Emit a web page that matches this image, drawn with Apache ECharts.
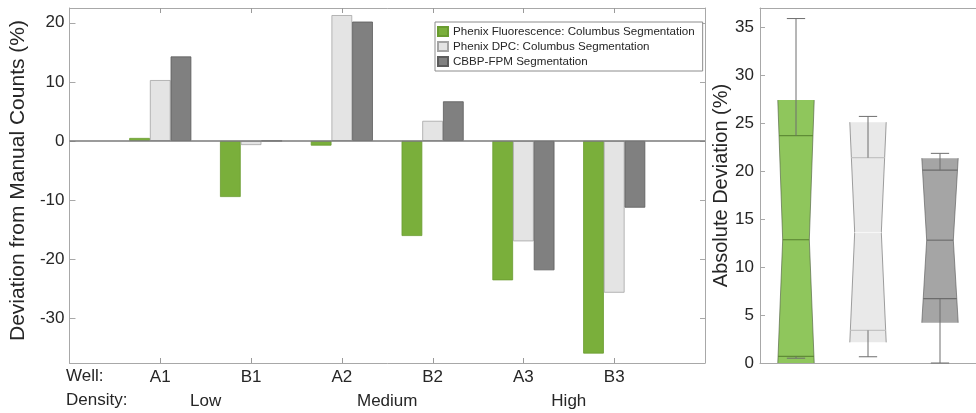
<!DOCTYPE html>
<html>
<head>
<meta charset="utf-8">
<script src="https://cdn.jsdelivr.net/npm/echarts@6/dist/echarts.min.js"></script>
<style>html,body{margin:0;padding:0;background:#fff;}#c{width:976px;height:413px;}</style>
</head>
<body>
<div id="c"></div>
<script>
// ---------- data ----------
const wells = ['A1', 'B1', 'A2', 'B2', 'A3', 'B3'];
const densityLevels = ['Low', 'Medium', 'High'];
const seriesNames = ['Phenix Fluorescence: Columbus Segmentation', 'Phenix DPC: Columbus Segmentation', 'CBBP-FPM Segmentation'];
const fluorescence = [0.5, -9.5, -0.8, -16.1, -23.6, -36.0];
const dpc = [10.3, -0.7, 21.3, 3.4, -17.0, -25.7];
const cbbp = [14.3, 0, 20.2, 6.7, -21.9, -11.3];
const leftTicks = [-30, -20, -10, 0, 10, 20];

// box plot statistics (absolute deviation %)
const boxNotchLow = [0, 2.15, 4.2];
const boxQ1 = [0.7, 3.4, 6.7];
const boxMedian = [12.85, 13.6, 12.8];
const boxQ3 = [23.7, 21.4, 20.1];
const boxNotchHigh = [27.4, 25.1, 21.35];
const whiskerLow = [0.5, 0.65, 0];
const whiskerHigh = [35.9, 25.7, 21.85];

// ---------- styles ----------
const FONT = '"Liberation Sans", Arial, Helvetica, sans-serif';
const TXT = '#262626';
const FRAME = '#a8a8a8';
const barFill = ['#7aaf3b', '#e4e4e4', '#808080'];
const barEdge = ['#6a9c30', '#a4a4a4', '#5c5c5c'];
const boxStyles = [
  {fill: '#8fc65c', edge: '#4f5f40', line: '#5f8c36', median: '#5f8c36'},
  {fill: '#e9e9e9', edge: '#6a6a6a', line: '#c4c4c4', median: '#f7f7f7'},
  {fill: '#a5a5a5', edge: '#5a5a5a', line: '#6c6c6c', median: '#707070'}
];

const xCats = [''].concat(wells, ['']);
const pad = arr => [null].concat(arr, [null]);
const densityPos = {};
densityLevels.forEach((d, k) => { densityPos[(2 * k + 1.5).toFixed(1)] = d; });

const boxData = boxMedian.map((m, i) => [i + 1, boxNotchLow[i], boxQ1[i], m, boxQ3[i], boxNotchHigh[i], whiskerLow[i], whiskerHigh[i]]);
const wellTickData = wells.map((w, i) => [i + 1, 0]);

function renderBox(params, api) {
  const x = api.value(0), nl = api.value(1), q1 = api.value(2), med = api.value(3),
        q3 = api.value(4), nh = api.value(5), wl = api.value(6), wh = api.value(7);
  const st = boxStyles[params.dataIndex];
  const H = 0.253, IN = 0.185, CAP = 0.127;
  const c = (dx, v) => api.coord([x + dx, v]);
  const halfAt = v => v >= med ? IN + (H - IN) * (v - med) / (nh - med) : IN + (H - IN) * (med - v) / (med - nl);
  const hline = (v, h, color, w) => {
    const a = c(-h, v), b = c(h, v);
    return {type: 'line', shape: {x1: a[0], y1: a[1], x2: b[0], y2: b[1]}, style: {stroke: color, lineWidth: w || 1}};
  };
  const vline = (v1, v2) => {
    const a = c(0, v1), b = c(0, v2);
    return {type: 'line', shape: {x1: a[0], y1: a[1], x2: b[0], y2: b[1]}, style: {stroke: '#6e6e6e', lineWidth: 1}};
  };
  return {
    type: 'group',
    children: [
      {type: 'polygon', shape: {points: [c(-H, nl), c(-IN, med), c(-H, nh), c(H, nh), c(IN, med), c(H, nl)]}, style: {fill: st.fill}},
      {type: 'polyline', shape: {points: [c(-H, nl), c(-IN, med), c(-H, nh)]}, style: {stroke: st.edge, lineWidth: 0.8, fill: null, opacity: 0.8}},
      {type: 'polyline', shape: {points: [c(H, nl), c(IN, med), c(H, nh)]}, style: {stroke: st.edge, lineWidth: 0.8, fill: null, opacity: 0.8}},
      hline(q1, halfAt(q1), st.line, 1.2),
      hline(q3, halfAt(q3), st.line, 1.2),
      hline(med, IN, st.median, 1.2),
      vline(q3, wh),
      vline(q1, wl),
      hline(wh, CAP, '#6e6e6e', 1),
      hline(wl, CAP, '#6e6e6e', 1)
    ]
  };
}

// small inward ticks on the top and bottom frame of the bar panel, at each well
function renderWellTick(params, api) {
  const p = api.coord([api.value(0), api.value(1)]);
  const cs = params.coordSys;
  const x = Math.round(p[0]) + 0.5;
  return {
    type: 'group',
    children: [
      {type: 'line', shape: {x1: x, y1: cs.y, x2: x, y2: cs.y + 5}, style: {stroke: '#9a9a9a', lineWidth: 1}},
      {type: 'line', shape: {x1: x, y1: cs.y + cs.height, x2: x, y2: cs.y + cs.height - 5}, style: {stroke: '#9a9a9a', lineWidth: 1}}
    ]
  };
}

const chart = echarts.init(document.getElementById('c'), null, {renderer: 'canvas'});
const axisLine = {show: true, onZero: false, lineStyle: {color: FRAME, width: 1}};
const tickStyle = {color: FRAME, width: 1};
const noLine = {show: false, onZero: false};

const barSeries = [fluorescence, dpc, cbbp].map((vals, i) => ({
  name: seriesNames[i],
  type: 'bar',
  xAxisIndex: 0,
  yAxisIndex: 0,
  data: pad(vals),
  barWidth: 20.7,
  barGap: '0%',
  itemStyle: {color: barFill[i], borderColor: barEdge[i], borderWidth: 0.8},
  silent: true
}));
barSeries[2].markLine = {
  silent: true, symbol: 'none', label: {show: false},
  lineStyle: {color: '#7a7a7a', width: 1.5, type: 'solid'},
  data: [{yAxis: 0}]
};

const option = {
  animation: false,
  backgroundColor: '#fff',
  textStyle: {fontFamily: FONT},
  grid: [
    {left: 65, top: 8, width: 640, height: 355},
    {left: 760, top: 8, width: 225, height: 355}
  ],
  legend: {
    data: seriesNames.map(n => ({name: n, icon: 'rect'})),
    orient: 'vertical',
    left: 435, top: 22,
    itemWidth: 10, itemHeight: 9, itemGap: 2,
    padding: [3, 8, 3, 2],
    borderColor: '#8c8c8c', borderWidth: 1, backgroundColor: '#fff',
    selectedMode: false,
    textStyle: {fontSize: 11.6, color: TXT, lineHeight: 13, fontFamily: FONT}
  },
  xAxis: [
    // 0: category axis carrying the bars and the well labels
    {gridIndex: 0, type: 'category', data: xCats, boundaryGap: false, position: 'bottom',
      axisLine: axisLine, axisTick: {show: false},
      axisLabel: {interval: 0, margin: 6, fontSize: 17, color: TXT, fontFamily: FONT}, splitLine: {show: false}},
    // 1: top frame (also the x scale of the frame ticks)
    {gridIndex: 0, type: 'value', min: 0, max: 7, interval: 1, position: 'top',
      axisLine: axisLine, axisTick: {show: false},
      axisLabel: {show: false}, splitLine: {show: false}},
    // 2: density labels
    {gridIndex: 0, type: 'value', min: 0, max: 7, interval: 0.5, position: 'bottom', offset: 25,
      axisLine: noLine, axisTick: {show: false}, splitLine: {show: false},
      axisLabel: {fontSize: 17, color: TXT, margin: 5, fontFamily: FONT,
        showMinLabel: false, showMaxLabel: false,
        formatter: v => densityPos[Number(v).toFixed(1)] || ''}},
    // 3, 4: box plot panel
    {gridIndex: 1, type: 'value', min: 0.5, max: 3.5, position: 'bottom',
      axisLine: axisLine, axisTick: {show: false}, axisLabel: {show: false}, splitLine: {show: false}},
    {gridIndex: 1, type: 'value', min: 0.5, max: 3.5, position: 'top',
      axisLine: axisLine, axisTick: {show: false}, axisLabel: {show: false}, splitLine: {show: false}}
  ],
  yAxis: [
    {gridIndex: 0, type: 'value', min: -37.6, max: 22.5, position: 'left',
      name: 'Deviation from Manual Counts (%)', nameLocation: 'middle', nameGap: 33,
      nameTextStyle: {fontSize: 21, color: TXT, fontFamily: FONT, padding: [0, 0, 0, 10]},
      axisLine: axisLine, axisTick: {show: true, inside: true, length: 6, lineStyle: tickStyle},
      axisLabel: {fontSize: 17, color: TXT, margin: 5, fontFamily: FONT, showMinLabel: false, showMaxLabel: false,
        formatter: v => leftTicks.indexOf(Math.round(v * 1000) / 1000) >= 0 ? String(v) : ''},
      splitLine: {show: false}},
    {gridIndex: 0, type: 'value', min: -37.6, max: 22.5, position: 'right',
      axisLine: axisLine, axisTick: {show: true, inside: true, length: 5, lineStyle: tickStyle},
      axisLabel: {show: false}, splitLine: {show: false}},
    {gridIndex: 1, type: 'value', min: 0, max: 37, interval: 5, position: 'left',
      name: 'Absolute Deviation (%)', nameLocation: 'middle', nameGap: 28,
      nameTextStyle: {fontSize: 20, color: TXT, fontFamily: FONT},
      axisLine: axisLine, axisTick: {show: true, inside: true, length: 5, lineStyle: tickStyle},
      axisLabel: {fontSize: 17, color: TXT, margin: 6, fontFamily: FONT, showMaxLabel: false,
        formatter: v => (Math.abs(v % 5) < 1e-9 ? String(v) : '')},
      splitLine: {show: false}}
  ],
  graphic: [
    {type: 'text', left: 66, top: 368, style: {text: 'Well:', font: '17px ' + FONT, fill: TXT}},
    {type: 'text', left: 66, top: 392, style: {text: 'Density:', font: '17px ' + FONT, fill: TXT}}
  ],
  series: barSeries.concat([
    {
      type: 'custom',
      xAxisIndex: 1,
      yAxisIndex: 0,
      renderItem: renderWellTick,
      data: wellTickData,
      encode: {x: 0, y: 1},
      silent: true,
      clip: false,
      z: 5
    },
    {
      type: 'custom',
      xAxisIndex: 3,
      yAxisIndex: 2,
      renderItem: renderBox,
      data: boxData,
      encode: {x: 0, y: [1, 2, 3, 4, 5, 6, 7]},
      silent: true,
      clip: false
    }
  ])
};
chart.setOption(option);
</script>
</body>
</html>
